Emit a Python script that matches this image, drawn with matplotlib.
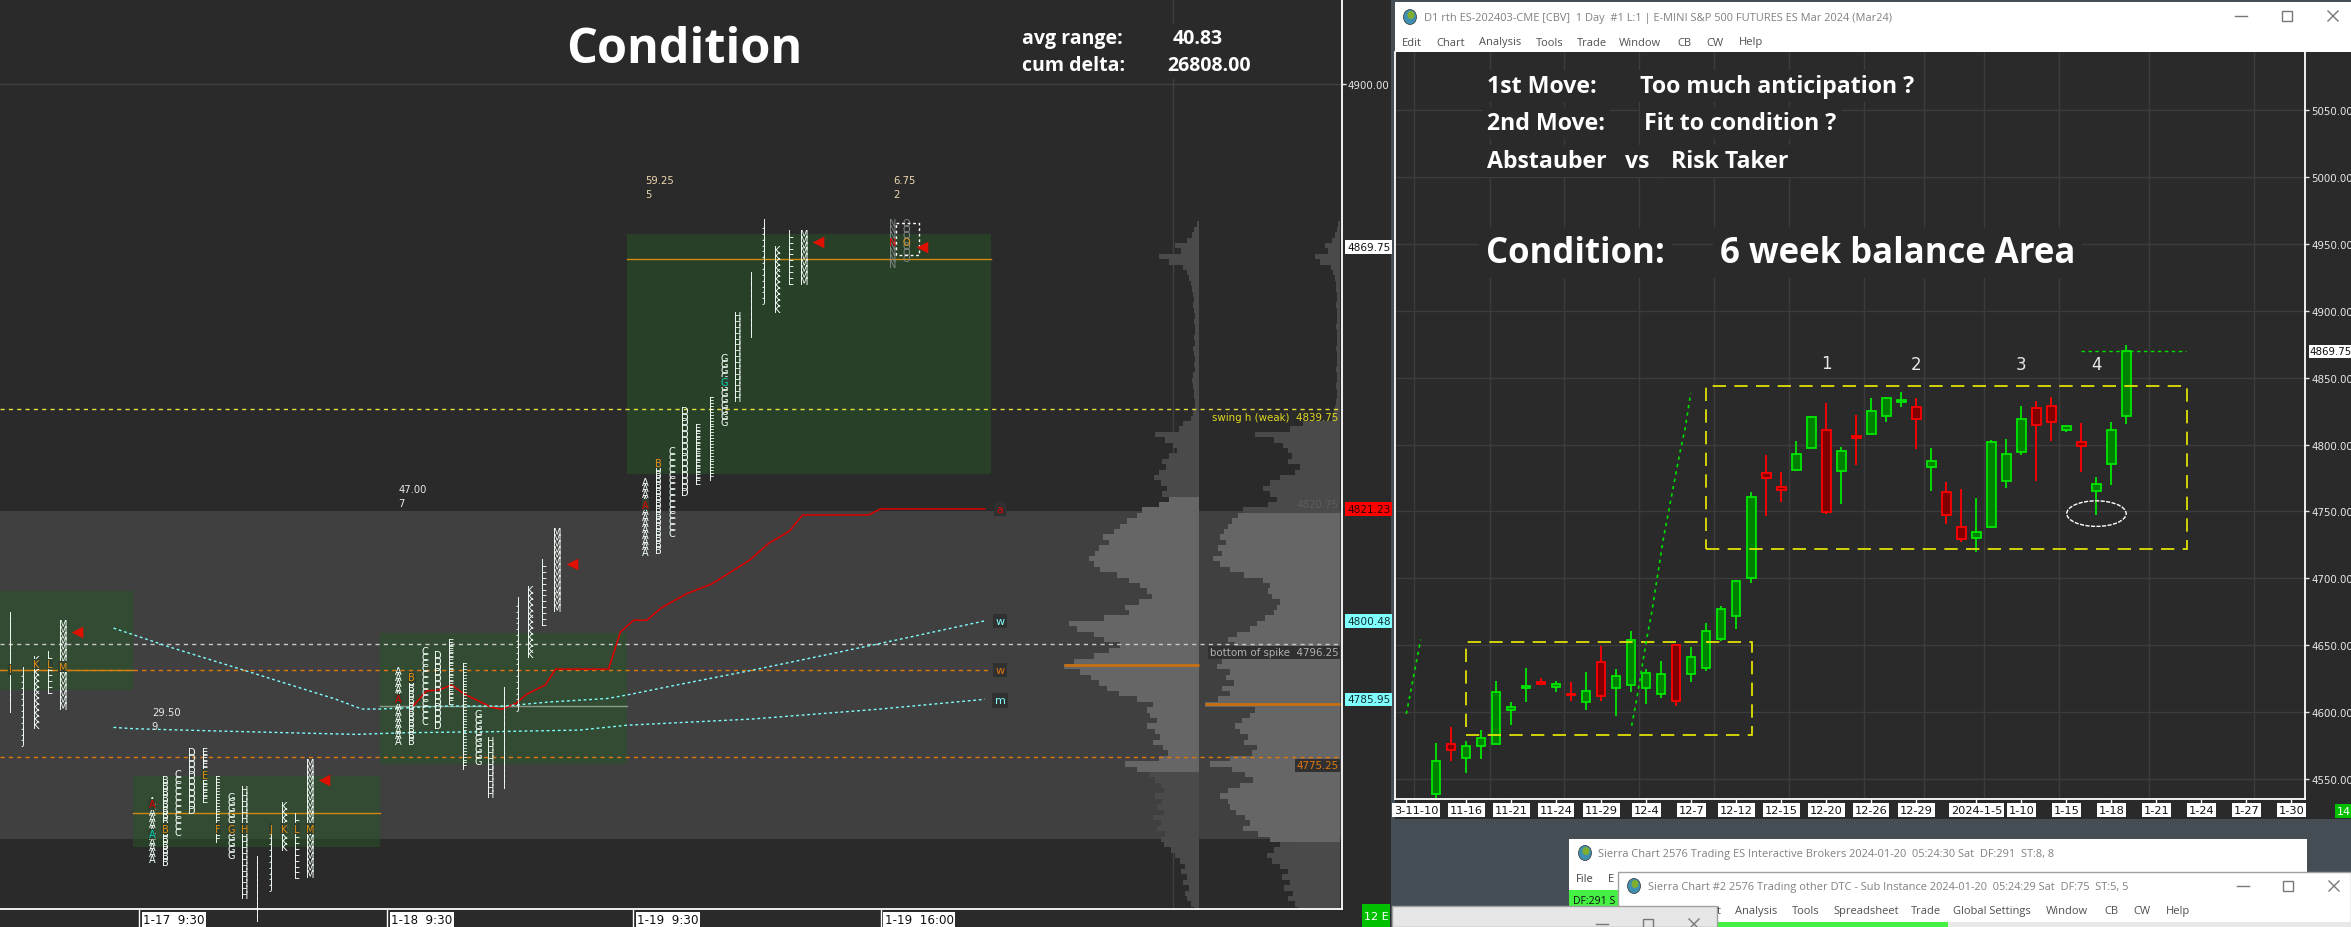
import matplotlib
matplotlib.use("Agg")
import matplotlib.pyplot as plt
from matplotlib.patches import Rectangle, Ellipse
import numpy as np

W, H = 2351, 928
BG = "#2a2a2a"
DESK = "#454e55"
UI_FONT = ["Open Sans", "DejaVu Sans"]
TPO_SIZE = 7
TPO_SPACING = 0.48

# ---- left chart: TPO columns per session, (letters, high, low)
tpo_start = [0.76, 11.5, 30.2, 48.9]
tpo_letters = ["IJKLM", "ABCDEFGHIJKLM", "ABCDEFGHIJKLM", "ABCDEFGHIJKLM"]
tpo_high = [
    [4801.75, 4791.5, 4793.5, 4794.5, 4800.25],
    [4767.5, 4771.25, 4772.5, 4776.5, 4776.5, 4771.25, 4768.25, 4769.5, 4756.5, 4762.5, 4766.5, 4764.5, 4774.5],
    [4791.5, 4790.5, 4795.25, 4794.5, 4796.75, 4792.25, 4783.5, 4778.5, 4787.75, 4804.5, 4806.5, 4811.5, 4817.25],
    [4826.5, 4830.25, 4832.25, 4839.75, 4836.5, 4841.5, 4849.5, 4857.25, 4864.75, 4874.5, 4869.5, 4872.5, 4872.5],
]
tpo_low = [
    [4786.25, 4779.5, 4782.25, 4788.25, 4786.25],
    [4757.25, 4757.25, 4762.25, 4767, 4768.5, 4761.25, 4758.25, 4751.5, 4747, 4752.25, 4759.25, 4754.25, 4755.5],
    [4779.25, 4779.25, 4783.25, 4782.25, 4787.25, 4775.5, 4775, 4769.25, 4772.25, 4787, 4795.25, 4801.25, 4804.25],
    [4814.25, 4815.25, 4818.25, 4825.25, 4827.25, 4828.25, 4838.25, 4843.25, 4855.25, 4861.5, 4859.25, 4864.25, 4864.25],
]
# last session after the gap
late_slot = [67.65, 68.64]
late_letter = ["N", "O"]
late_high = [4874.5, 4874.5]
late_low = [4867.5, 4869]

# coloured single prints: session, column, price, colour
mark_day = [0, 0, 0, 0, 1, 1, 1, 1, 1, 1, 1, 1, 1, 1, 1, 2, 2, 3, 3, 3]
mark_col = [0, 2, 3, 4, 0, 0, 1, 5, 6, 7, 9, 10, 11, 12, 4, 0, 1, 0, 1, 6]
mark_price = [4791.5, 4792.5, 4792.5, 4792, 4766.5, 4761, 4762, 4762, 4762, 4762, 4762, 4762, 4762, 4762, 4772, 4786, 4790, 4822, 4829.75, 4844.75]
mark_color = ["o", "o", "o", "o", "r", "c", "o", "o", "o", "o", "o", "o", "o", "o", "o", "r", "o", "r", "o", "c"]

# session boxes: x from, x to, price low, price high, mid price
box_x0 = [0, 10.08, 28.8, 47.5]
box_x1 = [10.08, 28.8, 47.5, 75.08]
box_low = [4787.7, 4758.6, 4774.05, 4827.7]
box_high = [4806, 4771.75, 4798.25, 4872.15]
box_mid = [4791.4, 4764.9, 4784.7, 4867.5]
box_mid_col = ["#d08a10", "#d08a10", "#8a9a88", "#d08a10"]

vwap_x = [31.3, 32.3, 33.3, 34.2, 35.2, 37.2, 38.0, 39.1, 39.9, 41.3, 42.1, 46.1, 47.0, 48.0, 49.0, 50.1, 52.0, 53.9, 56.8, 58.2, 59.8, 60.8, 65.8, 66.7, 74.6]
vwap_y = [4784.7, 4787.5, 4787.7, 4788.6, 4786.9, 4784.5, 4784.1, 4785.2, 4786.9, 4788.6, 4791.55, 4791.55, 4798.4, 4800.6, 4800.6, 4802.9, 4805.5, 4807.3, 4811.75, 4814.8, 4817.1, 4820.1, 4820.1, 4821.23, 4821.23]
weekly_x = [8.6, 12.9, 18.6, 25.4, 27.4, 28.75, 33.8, 38.2, 41.6, 46, 47.5, 51.25, 57, 62.9, 68.6, 74.6]
weekly_y = [4799.15, 4795.6, 4791.25, 4786, 4784.15, 4784.15, 4784.7, 4784.7, 4785.45, 4786.1, 4786.75, 4788.6, 4791.35, 4794.35, 4797.3, 4800.48]
monthly_x = [8.6, 10.15, 16.9, 27, 30.45, 37.2, 43.9, 47.5, 57, 66.7, 74.6]
monthly_y = [4780.75, 4780.5, 4780.05, 4779.45, 4779.75, 4779.95, 4780.25, 4781.15, 4782.3, 4784.15, 4785.95]

arrow_x = [5.83, 24.55, 43.3, 62, 69.85]
arrow_y = [4798.4, 4771, 4811, 4870.7, 4869.75]

# volume profiles, width in screen pixels, one value per point from 4874 down to 4747
profile_a = [
    2, 5, 7, 12, 24, 18, 40, 30, 16, 12, 10, 8, 7, 6, 5, 6, 5, 4, 5, 4, 4, 5, 4, 6, 5, 4, 5, 4, 6, 7, 6, 5,
    5, 4, 4, 6, 8, 16, 20, 44, 34, 26, 22, 30, 37, 33, 40, 45, 38, 32, 37, 30, 40, 57, 62, 72, 79, 85, 96, 90, 100, 104,
    110, 105, 99, 82, 70, 59, 52, 47, 60, 74, 70, 95, 130, 122, 105, 95, 79, 90, 105, 125, 135, 119, 108, 100, 92, 80, 62, 46, 52, 49,
    42, 52, 44, 39, 46, 36, 31, 40, 74, 62, 50, 44, 38, 35, 44, 37, 42, 35, 46, 38, 42, 34, 38, 35, 28, 24, 19, 14, 18, 12,
    16, 10, 14, 12, 8, 4,
]
profile_b = [
    2, 3, 5, 8, 15, 12, 25, 20, 9, 7, 5, 4, 4, 3, 3, 4, 3, 3, 3, 4, 3, 3, 3, 4, 3, 3, 3, 4, 3, 3, 4, 3,
    3, 4, 5, 6, 8, 37, 50, 85, 66, 57, 52, 48, 52, 40, 45, 60, 70, 77, 70, 63, 72, 97, 102, 108, 112, 116, 120, 114, 122, 118,
    127, 120, 110, 96, 77, 70, 72, 68, 60, 63, 66, 75, 83, 90, 103, 112, 105, 100, 110, 118, 123, 110, 114, 106, 118, 110, 122, 135, 85, 90,
    98, 105, 100, 92, 96, 83, 88, 110, 130, 108, 95, 87, 100, 112, 120, 112, 110, 104, 95, 90, 97, 82, 70, 60, 66, 73,
    68, 60, 52, 58, 50, 56, 47, 52, 45, 42,
]
profile_top = 4874

# ---- right chart: daily candles
candle_first = 2
cd_high = [4576.7, 4588.9, 4578.2, 4586.7, 4623.3, 4607.4, 4633, 4625.6, 4623.4, 4622.6, 4630, 4649.5, 4632.3, 4660.7, 4632, 4638.3, 4650, 4648.7, 4666.7, 4679.4, 4698.8, 4764.6, 4792.2, 4779.5, 4802.7, 4821.4, 4831.1, 4798.2, 4822.1, 4834.8, 4835.7, 4839.6, 4834.5, 4797.5, 4771.8, 4766.7, 4760.1, 4803.2, 4804.3, 4828.5, 4832.2, 4835.9, 4813.7, 4816.3, 4775.8, 4816.8, 4874.1]
cd_top = [4563.3, 4576, 4575, 4580.5, 4614.8, 4603.6, 4619.4, 4622.4, 4620.8, 4613.4, 4615.6, 4637.3, 4626.8, 4653.7, 4629.1, 4628.3, 4650, 4641, 4660.4, 4676.9, 4697.8, 4760.6, 4778.5, 4768.1, 4792.7, 4820.4, 4810.7, 4795, 4806.2, 4824.9, 4834.5, 4833.1, 4828.2, 4787.5, 4764.4, 4738.7, 4735, 4801.7, 4792.6, 4818.8, 4827.1, 4828.5, 4813.7, 4801.7, 4770.9, 4810.6, 4869.75]
cd_bot = [4538.6, 4571.5, 4565.5, 4574.5, 4576.5, 4601.9, 4618.4, 4621.4, 4618.6, 4612.6, 4607.4, 4612.4, 4618.4, 4620.6, 4618.4, 4613.9, 4608.1, 4628.8, 4633.3, 4655, 4672.1, 4700.1, 4774.8, 4766.3, 4781.3, 4797.2, 4749.4, 4780.5, 4805.2, 4808.2, 4821.7, 4831.7, 4818.8, 4783.2, 4747.3, 4729.4, 4729.9, 4738.7, 4772.4, 4794.6, 4814.3, 4816.6, 4811.1, 4798.6, 4765.5, 4785.8, 4821.7]
cd_low = [4535.9, 4563.5, 4554.8, 4565.3, 4576.5, 4590.4, 4607.6, 4620.6, 4615.1, 4608.4, 4601.6, 4608.6, 4597.2, 4615.1, 4606.1, 4610.6, 4604.6, 4622.3, 4630.8, 4653.2, 4662.2, 4696.6, 4746.6, 4757.4, 4780.3, 4797.2, 4748.1, 4755.6, 4785, 4808.2, 4817.1, 4828.2, 4796.6, 4765.2, 4740.7, 4727.4, 4719.6, 4737.9, 4767.5, 4792.3, 4772.7, 4802.9, 4809.4, 4779.5, 4747, 4769.8, 4815.4]
cd_up = [1, 0, 1, 1, 1, 1, 1, 0, 1, 0, 1, 0, 1, 1, 1, 1, 0, 1, 1, 1, 1, 1, 0, 0, 1, 1, 0, 1, 0, 1, 1, 1, 0, 1, 0, 0, 1, 1, 1, 1, 0, 0, 1, 0, 1, 1, 1]

date_pos = [0, 4, 7, 10, 13, 16, 19, 22, 25, 28, 31, 34, 38, 41, 44, 47, 50, 53, 56, 59]
date_lab = ["3-11-10", "11-16", "11-21", "11-24", "11-29", "12-4", "12-7", "12-12", "12-15", "12-20", "12-26", "12-29",
            "2024-1-5", "1-10", "1-15", "1-18", "1-21", "1-24", "1-27", "1-30"]
grid_x = [0.53, 5.55, 10.53, 15.53, 20.53, 25.53, 30.53, 34.5, 38.5, 43.5, 49.5, 56.5]
price_ticks = [4550, 4600, 4650, 4700, 4750, 4800, 4850, 4900, 4950, 5000, 5050]

trend1_x = [0, 0.24, 0.58, 0.96]
trend1_y = [4598.7, 4612.4, 4632.3, 4654.2]
trend2_x = [15.02, 15.36, 16.02, 16.36, 17.13, 18.24, 18.58, 18.96]
trend2_y = [4589.9, 4609.9, 4654.7, 4674.6, 4729.4, 4794.2, 4811.7, 4838.6]


def px_axes(fig, x0, y0, x1, y1, **kw):
    # axes from screenshot pixel box (y counted from the top)
    return fig.add_axes([x0 / W, 1 - y1 / H, (x1 - x0) / W, (y1 - y0) / H], **kw)


def win_buttons(ax, x_min, x_max, x_close, y, col="#777777"):
    ax.plot([x_min - 6, x_min + 6], [y, y], color=col, lw=1)
    ax.add_patch(Rectangle((x_max - 5, y - 5), 10, 10, fill=False, ec=col, lw=1))
    ax.plot([x_close - 5, x_close + 5], [y - 5, y + 5], color=col, lw=1)
    ax.plot([x_close - 5, x_close + 5], [y + 5, y - 5], color=col, lw=1)


def globe(ax, x, y):
    ax.add_patch(Ellipse((x, y), 13, 15, fc="#3f8fb0", ec="#333333", lw=0.5))
    ax.add_patch(Ellipse((x + 1, y - 2), 7, 8, fc="#7fae2f", ec="none"))


def draw_chrome(ax):
    ax.set_xlim(0, W)
    ax.set_ylim(H, 0)
    ax.axis("off")
    ax.add_patch(Rectangle((0, 0), 1391, H, fc=BG, ec="none"))
    ax.add_patch(Rectangle((1391, 0), W - 1391, H, fc=DESK, ec="none"))

    # daily chart window
    ax.add_patch(Rectangle((1395, 3), W - 1395, 50, fc="white", ec="none"))
    ax.add_patch(Rectangle((1395, 53), W - 1395, 767, fc=BG, ec="none"))
    globe(ax, 1410, 18)
    ax.text(1424, 18, "D1 rth ES-202403-CME [CBV]  1 Day  #1 L:1 | E-MINI S&P 500 FUTURES ES Mar 2024 (Mar24)",
            family=UI_FONT, fontsize=7.9, color="#808080", va="center")
    for x, s in zip([1402, 1436, 1479, 1536, 1577, 1619, 1677, 1706, 1739],
                    ["Edit", "Chart", "Analysis", "Tools", "Trade", "Window", "CB", "CW", "Help"]):
        ax.text(x, 43, s, family=UI_FONT, fontsize=8, color="#505050", va="center")
    win_buttons(ax, 2241, 2287, 2333, 17)

    # windows stacked at the bottom
    ax.add_patch(Rectangle((1569, 840), 738, 70, fc="white", ec="none"))
    globe(ax, 1585, 854)
    ax.text(1598, 855, "Sierra Chart 2576 Trading ES Interactive Brokers 2024-01-20  05:24:30 Sat  DF:291  ST:8, 8",
            family=UI_FONT, fontsize=7.9, color="#808080", va="center")
    ax.text(1576, 880, "File", family=UI_FONT, fontsize=8, color="#404040", va="center")
    ax.text(1608, 880, "E", family=UI_FONT, fontsize=8, color="#404040", va="center")
    ax.add_patch(Rectangle((1569, 891), 49, 37, fc="#44f044", ec="none"))
    ax.text(1573, 902, "DF:291 S", family=UI_FONT, fontsize=7.6, color="#101010", va="center", clip_on=True)

    ax.add_patch(Rectangle((1618, 873), W - 1618, 55, fc="white", ec="#a0a0a0", lw=1))
    globe(ax, 1634, 887)
    ax.text(1647.5, 888, "Sierra Chart #2 2576 Trading other DTC - Sub Instance 2024-01-20  05:24:29 Sat  DF:75  ST:5, 5",
            family=UI_FONT, fontsize=7.9, color="#808080", va="center")
    for x, s in zip([1717, 1735, 1792, 1833, 1911, 1953, 2046, 2104, 2133, 2166],
                    ["t", "Analysis", "Tools", "Spreadsheet", "Trade", "Global Settings", "Window", "CB", "CW", "Help"]):
        ax.text(x, 912, s, family=UI_FONT, fontsize=8, color="#505050", va="center")
    ax.add_patch(Rectangle((1717, 923), 231, 5, fc="#44f044", ec="none"))
    ax.add_patch(Rectangle((1948, 923), W - 1948, 5, fc="#e8e8e8", ec="none"))
    win_buttons(ax, 2243, 2288, 2334, 887)

    ax.add_patch(Rectangle((1392, 907), 325, 21, fc="#e6e6e6", ec="#a0a0a0", lw=1))
    win_buttons(ax, 1602, 1648, 1694, 925)

    # chart status boxes
    ax.add_patch(Rectangle((1362, 905), 28, 23, fc="#00c000", ec="none"))
    ax.text(1376, 917, "12 E", color="white", fontsize=8, ha="center", va="center")
    ax.add_patch(Rectangle((2335, 805), 16, 14, fc="#00c000", ec="none"))
    ax.text(2337, 812, "14", color="white", fontsize=8, va="center", clip_on=True)


def draw_profile(ax, widths, right, va_low, va_high, px_per_slot):
    prices = profile_top - np.arange(len(widths))
    w = np.array(widths) / px_per_slot
    inside = (prices >= va_low) & (prices <= va_high)
    ax.barh(prices[~inside], w[~inside], left=right - w[~inside], height=1.0, color="#4a4a4a", lw=0, zorder=2)
    ax.barh(prices[inside], w[inside], left=right - w[inside], height=1.0, color="#666666", lw=0, zorder=2)


def draw_left(ax):
    px = 13.2
    ax.set_facecolor(BG)
    ax.set_xlim(0, 1342 / px)
    ax.set_ylim(4747.1, 4915.7)

    ax.axhspan(4760, 4820.75, color="#404040", lw=0, zorder=0)
    ax.axhline(4900, color="#404040", lw=1, zorder=1)
    ax.axvline(88.86, color="#404040", lw=1, zorder=1)

    draw_profile(ax, profile_a, 90.83, 4773, 4823.6, px)
    draw_profile(ax, profile_b, 101.5, 4760, 4820.75, px)
    ax.plot([80.6, 90.83], [4792.25, 4792.25], color="#c87010", lw=2, zorder=3, solid_capstyle="butt")
    ax.plot([91.3, 101.5], [4785, 4785], color="#c87010", lw=2, zorder=3, solid_capstyle="butt")

    for x0, x1, lo, hi, mid, mc in zip(box_x0, box_x1, box_low, box_high, box_mid, box_mid_col):
        ax.add_patch(Rectangle((x0, lo), x1 - x0, hi - lo, fc="#285628", alpha=0.5, lw=0, zorder=3))
        ax.plot([x0, x1], [mid, mid], color=mc, lw=1, zorder=3.5)

    ax.axhline(4839.75, color="#e8e040", lw=1, ls=(0, (3, 3)), zorder=4)
    ax.axhline(4796.25, color="#c8c8c8", lw=1, ls=(0, (3, 3)), zorder=4)
    ax.axhline(4775.25, color="#e07810", lw=1, ls=(0, (3, 3)), zorder=4)
    ax.plot([0, 74.9], [4791.4, 4791.4], color="#e07810", lw=1, ls=(0, (3, 3)), zorder=4)

    ax.plot(vwap_x, vwap_y, color="#e00000", lw=1.1, zorder=5)
    ax.plot(weekly_x, weekly_y, color="#80ffff", lw=1, ls=(0, (2, 2)), zorder=5)
    ax.plot(monthly_x, monthly_y, color="#80ffff", lw=1, ls=(0, (2, 2)), zorder=5)

    # TPO letter columns, one multi line text per column
    for d, start in enumerate(tpo_start):
        for k, (letter, hi, lo) in enumerate(zip(tpo_letters[d], tpo_high[d], tpo_low[d])):
            n = int(round(hi - lo)) + 1
            ax.text(start + k, hi + 0.6, "\n".join([letter] * n), color="#f4fff8", fontsize=TPO_SIZE,
                    linespacing=TPO_SPACING, ha="center", va="top", zorder=6, family="DejaVu Sans")
    mark_cols = {"o": "#e09010", "r": "#e00000", "c": "#00d8b0"}
    for d, c, p, mc in zip(mark_day, mark_col, mark_price, mark_color):
        ax.text(tpo_start[d] + c, p, tpo_letters[d][c], color=mark_cols[mc], fontsize=TPO_SIZE, ha="center", va="center",
                zorder=7, bbox=dict(fc="#304030", ec="none", pad=0.2))
    for x, s, hi, lo in zip(late_slot, late_letter, late_high, late_low):
        n = int(round(hi - lo)) + 1
        ax.text(x, hi + 0.6, "\n".join([s] * n), color="#808888", fontsize=TPO_SIZE, linespacing=TPO_SPACING,
                ha="center", va="top", zorder=6)
    ax.text(67.65, 4870.75, "N", color="#e00000", fontsize=TPO_SIZE, ha="center", va="center", zorder=7)
    ax.text(68.64, 4870.75, "O", color="#e09010", fontsize=TPO_SIZE, ha="center", va="center", zorder=7)
    ax.plot([67.9, 69.6, 69.6, 67.9, 67.9], [4874.2, 4874.2, 4868.3, 4868.3, 4874.2], color="white", lw=1,
            ls=(0, (2, 2)), zorder=7)

    ax.scatter(arrow_x, arrow_y, marker="<", s=70, color="#e01000", lw=0, zorder=8)

    for x, y, s, c in [(11.5, 4782.3, "29.50\n9", "#e8e8e8"), (30.2, 4823.6, "47.00\n7", "#e8e8e8"),
                       (48.9, 4880.9, "59.25\n5", "#f0d8b0"), (67.65, 4880.9, "6.75\n2", "#f0d8b0")]:
        ax.text(x, y, s, color=c, fontsize=7.2, linespacing=1.5, va="center", zorder=8)

    # line tags
    for y, s, c in [(4821.23, "a", "#e00000"), (4800.48, "w", "#80ffff"), (4791.4, "w", "#e07810"), (4785.75, "m", "#80ffff")]:
        ax.text(75.76, y, s, color=c, fontsize=8, ha="center", va="center", zorder=8, bbox=dict(fc="#303030", ec="none", pad=1.5))

    for y, s, c, bg in [(4838.25, "swing h (weak)  4839.75", "#e0d820", None),
                        (4794.7, "bottom of spike  4796.25", "#b0b0b0", "#303030"),
                        (4773.75, "4775.25", "#e07810", "#303030"),
                        (4822.1, "4820.75", "#5c5c5c", None),
                        (4758.4, "4760.00", "#4e4e4e", None)]:
        box = dict(fc=bg, ec="none", pad=1) if bg else None
        ax.text(101.4, y, s, color=c, fontsize=7.4, ha="right", va="center", zorder=8, bbox=box)

    # right scale
    ax.yaxis.tick_right()
    ax.set_yticks([4900], ["4900.00"])
    ax.tick_params(axis="y", colors="#e8e8e8", length=3, width=1, labelsize=7.4, pad=1)
    for y, s, fc, tc in [(4869.75, "4869.75", "white", "#101010"), (4821.23, "4821.23", "#ff0000", "#300000"),
                         (4800.48, "4800.48", "#80ffff", "#103030"), (4785.95, "4785.95", "#80ffff", "#103030")]:
        ax.annotate(s, (1, y), xycoords=ax.get_yaxis_transform(), xytext=(5, 0), textcoords="offset pixels",
                    color=tc, fontsize=7.6, va="center", annotation_clip=False, bbox=dict(fc=fc, ec="none", pad=1.2))

    # time scale
    ax.set_xticks([139 / px, 387 / px, 633 / px, 880.6 / px], [])
    ax.tick_params(axis="x", colors="white", length=13, width=1)
    for x, s in zip([139 / px, 387 / px, 633 / px, 880.6 / px], ["1-17  9:30", "1-18  9:30", "1-19  9:30", "1-19  16:00"]):
        ax.annotate(s, (x, 0), xycoords=ax.get_xaxis_transform(), xytext=(4, -11), textcoords="offset pixels",
                    color="#101010", fontsize=8.6, va="center", annotation_clip=False, bbox=dict(fc="white", ec="none", pad=1))

    for side in ["top", "left"]:
        ax.spines[side].set_visible(False)
    for side in ["right", "bottom"]:
        ax.spines[side].set_color("white")
        ax.spines[side].set_linewidth(1.3)
        ax.spines[side].set_zorder(9)

    ax.text(684 / px, 4906.3, "Condition", family=UI_FONT, weight="bold", fontsize=35, color="white", ha="center", va="center", zorder=9)
    t = dict(family=UI_FONT, weight="bold", fontsize=14, color="white", va="center", zorder=9,
             bbox=dict(fc=BG, ec="none", pad=3))
    ax.text(1022 / px, 4908.4, "avg range:", **t)
    ax.text(1173 / px, 4908.4, "40.83", **t)
    ax.text(1022 / px, 4903.4, "cum delta:", **t)
    ax.text(1167 / px, 4903.4, "26808.00", **t)


def draw_right(ax):
    ax.set_facecolor(BG)
    ax.set_xlim(-0.753, 59.9)
    ax.set_ylim(4535.1, 5093.4)

    for x in grid_x:
        ax.axvline(x, color="#3c3c3c", lw=1, zorder=1)
    for y in price_ticks:
        ax.axhline(y, color="#3c3c3c", lw=1, zorder=1)

    idx = candle_first + np.arange(len(cd_up))
    up = np.array(cd_up) == 1
    edge = np.where(up, "#00e600", "#ff0000")
    face = np.where(up, "#008000", "#800000")
    ax.vlines(idx, cd_low, cd_high, colors=edge, lw=1.3, zorder=3)
    ax.bar(idx, np.array(cd_top) - np.array(cd_bot), bottom=cd_bot, width=0.55, color=face, edgecolor=edge, lw=1.3, zorder=4)

    dash = (0, (8, 5))
    ax.add_patch(Rectangle((4, 4583.2), 19.02, 69, fill=False, ec="#f0f000", lw=1.2, ls=dash, zorder=5))
    ax.add_patch(Rectangle((20, 4721.7), 32.03, 121.9, fill=False, ec="#f0f000", lw=1.2, ls=dash, zorder=5))

    ax.plot(trend1_x, trend1_y, color="#00e000", lw=1.2, ls=(0, (2, 2.5)), zorder=5)
    ax.plot(trend2_x, trend2_y, color="#00e000", lw=1.2, ls=(0, (2, 2.5)), zorder=5)
    ax.plot([45, 52], [4869.75, 4869.75], color="#00e000", lw=1, ls=(0, (2.5, 2.5)), zorder=5)

    ax.add_patch(Ellipse((46, 4748.4), 3.96, 19.1, fill=False, ec="white", lw=1, ls=(0, (3, 1)), zorder=6))

    for x, y, s in [(28, 4861, "1"), (34, 4860, "2"), (41, 4860, "3"), (46, 4860, "4")]:
        ax.text(x, y, s, color="#e8e8e8", fontsize=12, ha="center", va="center", zorder=6)

    t = dict(family=UI_FONT, weight="bold", fontsize=16.7, color="white", va="center", zorder=7,
             bbox=dict(fc=BG, ec="none", pad=3))
    ax.text(5.4, 5067.8, "1st Move:", **t)
    ax.text(15.6, 5067.8, "Too much anticipation ?", **t)
    ax.text(5.4, 5040.3, "2nd Move:", **t)
    ax.text(15.85, 5040.3, "Fit to condition ?", **t)
    ax.text(5.4, 5011.9, "Abstauber", **t)
    ax.text(14.6, 5011.9, "vs", **t)
    ax.text(17.65, 5011.9, "Risk Taker", **t)
    t["fontsize"] = 25
    t["bbox"] = dict(fc=BG, ec="none", pad=5)
    ax.text(5.3, 4942.9, "Condition:", **t)
    ax.text(20.9, 4942.9, "6 week balance Area", **t)

    ax.yaxis.tick_right()
    ax.set_yticks(price_ticks, [f"{p:.2f}" for p in price_ticks])
    ax.tick_params(axis="y", colors="#e8e8e8", length=3, width=1, labelsize=7.4, pad=1.5)
    ax.annotate("4869.75", (1, 4869.75), xycoords=ax.get_yaxis_transform(), xytext=(5, 0), textcoords="offset pixels",
                color="#101010", fontsize=7.4, va="center", annotation_clip=False, bbox=dict(fc="white", ec="none", pad=1))

    ax.set_xticks(date_pos, [])
    ax.tick_params(axis="x", colors="white", length=3, width=1)
    for i, s in zip(date_pos, date_lab):
        off = 10 if i == 0 else 0
        ax.annotate(s, (i, 0), xycoords=ax.get_xaxis_transform(), xytext=(off, -11), textcoords="offset pixels",
                    color="#101010", fontsize=8.2, ha="center", va="center", annotation_clip=False,
                    bbox=dict(fc="white", ec="none", pad=1.2))

    for side in ["top"]:
        ax.spines[side].set_visible(False)
    for side in ["right", "bottom", "left"]:
        ax.spines[side].set_color("white")
        ax.spines[side].set_linewidth(1.3)


def main():
    fig = plt.figure(figsize=(W / 100, H / 100), dpi=100)
    base = px_axes(fig, 0, 0, W, H)
    draw_chrome(base)
    draw_left(px_axes(fig, 0, 0, 1342, 910))
    draw_right(px_axes(fig, 1395, 53, 2305, 800))
    fig.savefig("out.png", dpi=100)


if __name__ == "__main__":
    main()
